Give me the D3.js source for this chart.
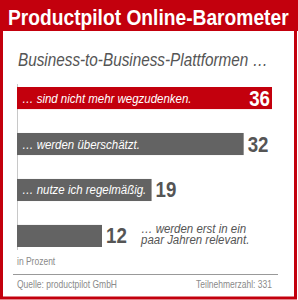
<html>
  <head>
    <meta charset="UTF-8">
    <script src="https://unpkg.com/d3@7/dist/d3.min.js"></script>
    <style>
      body { margin: 0; background: #fff; }
    </style>
  </head>
  <body>
  <script type="text/javascript">

    // size of the graphic
    var width = 298;
    var height = 300;

    // data read from the barometer
    var answers = ["… sind nicht mehr wegzudenken.",
                   "… werden überschätzt.",
                   "… nutze ich regelmäßig.",
                   "… werden erst in ein paar Jahren relevant."];
    var shares = [36, 32, 19, 12];
    var barColors = ["#c3000d", "#636363", "#636363", "#636363"];

    var font = "'Liberation Sans', Arial, sans-serif";
    var squeeze = 0.85;   // fake a condensed face by squeezing the glyphs
    var red = "#c3000d";

    var svg = d3.select('body')
                .append('svg')
                .attr('width', width)
                .attr('height', height);

    // put a squeezed text at x, y
    function label(parent, x, y, str, size, opts)
    {
      opts = opts || {};
      return parent.append('text')
          .attr('transform', 'translate(' + x + ',' + y + ') scale(' + squeeze + ',1)')
          .attr('text-anchor', opts.anchor || 'start')
          .style('font-family', font)
          .style('font-size', size + 'px')
          .style('font-weight', opts.weight || 'normal')
          .style('font-style', opts.style || 'normal')
          .style('fill', opts.fill || '#555')
          .text(str);
    }

    // frame and header
    svg.append('rect')
       .attr('x', 1.5).attr('y', 1.5)
       .attr('width', width - 4).attr('height', height - 3.5)
       .style('fill', '#fff')
       .style('stroke', red)
       .style('stroke-width', 3);

    svg.append('rect')
       .attr('x', 0).attr('y', 0)
       .attr('width', width).attr('height', 31)
       .style('fill', red);

    label(svg, 8, 25, 'Productpilot Online-Barometer', 22.6, {weight: 'bold', fill: '#fff'});
    label(svg, 18, 66, 'Business-to-Business-Plattformen …', 18, {style: 'italic', fill: '#555'});

    // scales
    var x = d3.scaleLinear()
              .domain([0, d3.max(shares)])
              .range([17, 272]);

    var y = d3.scaleBand()
              .domain(answers)
              .range([87, 247])
              .paddingInner(0.52);

    // the vertical base line
    svg.append('line')
       .attr('x1', 17.5).attr('x2', 17.5)
       .attr('y1', 84).attr('y2', 250)
       .style('stroke', '#c8c8c8')
       .style('stroke-width', 1);

    var rows = svg.selectAll('g.row')
                  .data(answers)
                  .enter()
                  .append('g')
                  .attr('class', 'row');

    rows.append('rect')
        .attr('x', x(0))
        .attr('y', function(d){ return y(d); })
        .attr('width', function(d, i){ return x(shares[i]) - x(0); })
        .attr('height', y.bandwidth())
        .style('fill', function(d, i){ return barColors[i]; });

    rows.each(function(d, i){
      var g = d3.select(this);
      var top = y(d);
      var mid = top + y.bandwidth() / 2;

      // value: the biggest goes inside the bar, the others behind it
      if (i == 0) {
        label(g, x(shares[i]) - 2, mid + 7.5, shares[i], 22, {weight: 'bold', fill: '#fff', anchor: 'end'});
      } else {
        label(g, x(shares[i]) + 4, mid + 7.5, shares[i], 22, {weight: 'bold', fill: '#555'});
      }

      // answer: inside the bar when there is room, else after the number in two lines
      if (i < 3) {
        label(g, 22, mid + 4.5, d, 13.5, {style: 'italic', fill: '#fff'});
      } else {
        label(g, 141, top + 8, '… werden erst in ein', 13.5, {style: 'italic', fill: '#555'});
        label(g, 141, top + 19, 'paar Jahren relevant.', 13.5, {style: 'italic', fill: '#555'});
      }
    });

    // unit, rule and source line
    label(svg, 17, 265, 'in Prozent', 10, {fill: '#8a8a8a'});

    svg.append('line')
       .attr('x1', 13).attr('x2', 278)
       .attr('y1', 274.5).attr('y2', 274.5)
       .style('stroke', '#999')
       .style('stroke-width', 1);

    label(svg, 17, 288, 'Quelle: productpilot GmbH', 10, {fill: '#8a8a8a'});
    label(svg, 272, 288, 'Teilnehmerzahl: 331', 10, {fill: '#8a8a8a', anchor: 'end'});

  </script>
  </body>
</html>
